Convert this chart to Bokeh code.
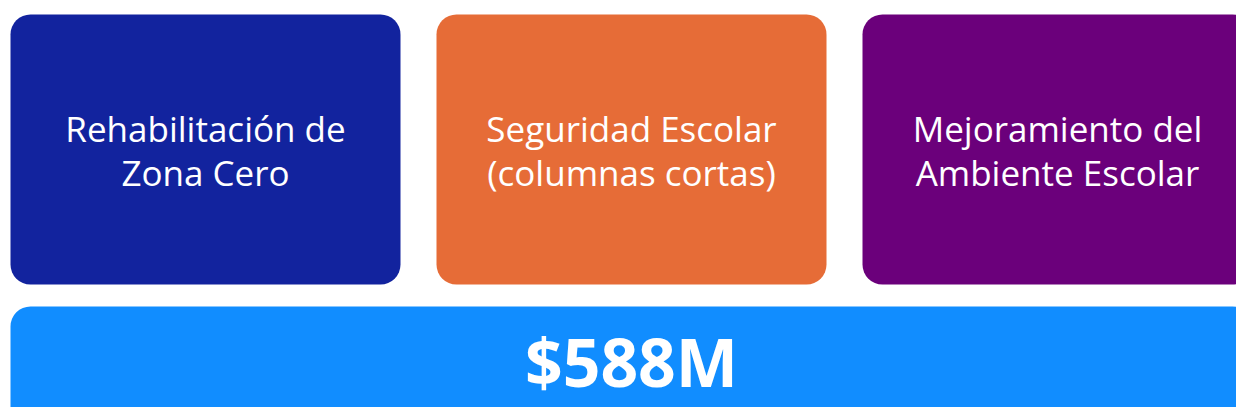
from bokeh.plotting import figure
from bokeh.models import ColumnDataSource, Range1d
from bokeh.core.properties import value
from bokeh.embed import file_html
from bokeh.resources import INLINE

# Data
categories = ["Rehabilitación de\nZona Cero",
              "Seguridad Escolar\n(columnas cortas)",
              "Mejoramiento del\nAmbiente Escolar"]
cat_colors = ["#12239E", "#E66C37", "#6B007B"]
total_label = "$588M"
total_color = "#118DFF"

W, H = 1236, 407
pitch = 426.0          # px per slot
box_w = 390.0 / pitch  # box width in slot units
x0 = -205.0 / pitch
p = figure(width=W, height=H, output_backend="svg", toolbar_location=None,
           x_range=Range1d(x0, x0 + W / pitch), y_range=Range1d(0, H),
           min_border=0, outline_line_color=None, background_fill_color="white",
           border_fill_color="white")
p.axis.visible = False
p.grid.visible = False

n = len(categories)
idx = list(range(n))
src = ColumnDataSource(dict(
    x=idx,
    left=[i - box_w / 2 for i in idx],
    right=[i + box_w / 2 for i in idx],
    label=categories,
    color=cat_colors,
))
p.quad(left="left", right="right", bottom=H - 284, top=H - 14, fill_color="color",
       line_color=None, border_radius=20, source=src)
p.text(x="x", y=H - 150, text="label", text_color="white", text_align="center",
       text_baseline="middle", text_font=value("Open Sans"), text_font_size="35px",
       text_line_height=0.93, source=src)

tsrc = ColumnDataSource(dict(
    left=[-box_w / 2], right=[(n - 1) + box_w / 2],
    x=[(n - 1) / 2], label=[total_label], color=[total_color]))
p.quad(left="left", right="right", bottom=-60, top=H - 306, fill_color="color",
       line_color=None, border_radius=20, source=tsrc)
p.text(x="x", y=H - 360, text="label", text_color="white", text_align="center",
       text_baseline="middle", text_font=value("Open Sans"), text_font_style="bold",
       text_font_size="66px", source=tsrc)

open("out.html", "w").write(file_html(p, INLINE))
